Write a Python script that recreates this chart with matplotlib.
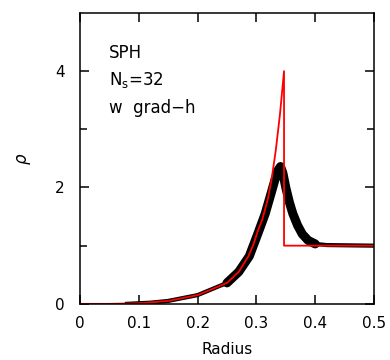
import matplotlib
matplotlib.use("Agg")
import matplotlib.pyplot as plt

# analytic solution (red)
exact_r = [0.0, 0.05, 0.10, 0.15, 0.20, 0.25, 0.27, 0.286, 0.295, 0.303, 0.31,
           0.319, 0.326, 0.333, 0.340, 0.347, 0.347, 0.5]
exact_rho = [0.0, 0.0, 0.01, 0.05, 0.15, 0.36, 0.55, 0.81, 1.02, 1.27, 1.45,
             1.78, 2.15, 2.64, 3.25, 4.0, 1.0, 1.0]

# SPH particles (black band), centre of the band
sph_r = [0.08, 0.12, 0.15, 0.20, 0.25, 0.27, 0.288, 0.303, 0.315, 0.325, 0.332,
         0.337, 0.341, 0.345, 0.350, 0.356, 0.362, 0.370, 0.378, 0.388, 0.40,
         0.42, 0.5]
sph_rho = [0.0, 0.02, 0.05, 0.15, 0.36, 0.55, 0.82, 1.22, 1.55, 1.9, 2.15,
           2.3, 2.36, 2.25, 2.0, 1.75, 1.55, 1.35, 1.2, 1.09, 1.03,
           1.01, 1.0]

xticks = [0, 0.1, 0.2, 0.3, 0.4, 0.5]
xtick_labels = ["0", "0.1", "0.2", "0.3", "0.4", "0.5"]
yticks = [0, 2, 4]

fig = plt.figure(figsize=(3.9, 3.6), dpi=100)
ax = fig.add_axes([0.205, 0.156, 0.754, 0.808])

ax.plot(sph_r, sph_rho, color="black", linewidth=3, solid_joinstyle="round")
inner = [i for i, r in enumerate(sph_r) if 0.24 <= r <= 0.40]
ax.plot([sph_r[i] for i in inner], [sph_rho[i] for i in inner],
        color="black", linewidth=6.5, solid_capstyle="round", solid_joinstyle="round")
ax.plot(exact_r, exact_rho, color="#ff0000", linewidth=1.3)

ax.set_xlim(0, 0.5)
ax.set_ylim(0, 5)
ax.set_xticks(xticks)
ax.set_xticklabels(xtick_labels)
ax.set_yticks(yticks)
ax.set_yticks([1, 3], minor=True)
ax.tick_params(which="both", direction="in", top=True, right=True,
               labelsize=11, width=1.1)
ax.tick_params(axis="x", pad=9)
ax.tick_params(axis="y", pad=11)
ax.tick_params(which="major", length=6.5)
ax.tick_params(which="minor", length=5)
for s in ax.spines.values():
    s.set_linewidth(1.1)

ax.set_xlabel("Radius", fontsize=11, labelpad=8)
ax.set_ylabel(r"$\rho$", fontsize=12, labelpad=16)

ax.text(0.1, 0.863, "SPH", transform=ax.transAxes, fontsize=12, va="center")
ax.text(0.1, 0.768, r"N$_\mathregular{s}$=32", transform=ax.transAxes, fontsize=12, va="center")
ax.text(0.1, 0.673, "w  grad\u2212h", transform=ax.transAxes, fontsize=12, va="center")

fig.savefig("out.png", dpi=100)
